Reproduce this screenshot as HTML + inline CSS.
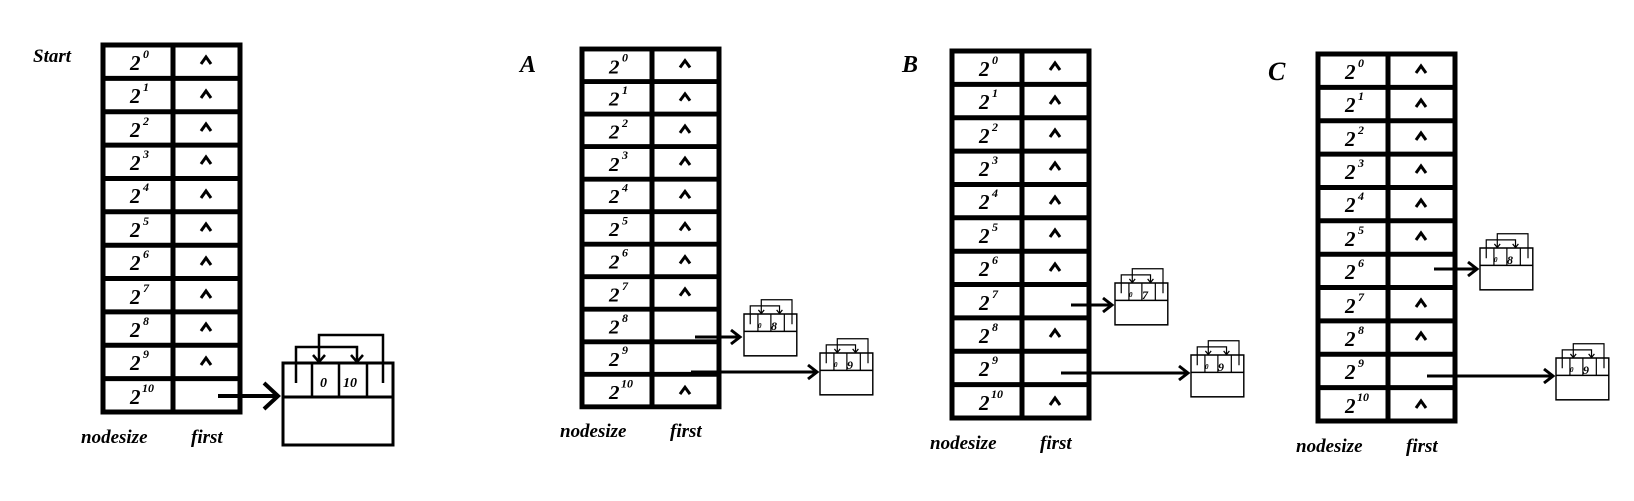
<!DOCTYPE html>
<html><head><meta charset="utf-8"><style>
html,body{margin:0;padding:0;background:#fff;}
svg{display:block;}
text{font-family:"Liberation Serif",serif;font-style:italic;font-weight:bold;fill:#000;}
</style></head><body>
<svg width="1634" height="501" viewBox="0 0 1634 501" xmlns="http://www.w3.org/2000/svg">
<defs>
<g id="tbl">
  <rect x="0" y="0" width="137" height="367" fill="#fff" stroke="#000" stroke-width="5"/>
  <line x1="70" y1="0" x2="70" y2="367" stroke="#000" stroke-width="5"/>
  <g stroke="#000" stroke-width="5">
    <line x1="0" y1="33.4" x2="137" y2="33.4"/><line x1="0" y1="66.7" x2="137" y2="66.7"/>
    <line x1="0" y1="100.1" x2="137" y2="100.1"/><line x1="0" y1="133.5" x2="137" y2="133.5"/>
    <line x1="0" y1="166.8" x2="137" y2="166.8"/><line x1="0" y1="200.2" x2="137" y2="200.2"/>
    <line x1="0" y1="233.5" x2="137" y2="233.5"/><line x1="0" y1="266.9" x2="137" y2="266.9"/>
    <line x1="0" y1="300.3" x2="137" y2="300.3"/><line x1="0" y1="333.6" x2="137" y2="333.6"/>
  </g>
  <g font-size="21">
    <text x="27" y="25">2</text><text x="27" y="58">2</text><text x="27" y="92">2</text>
    <text x="27" y="125">2</text><text x="27" y="158">2</text><text x="27" y="192">2</text>
    <text x="27" y="225">2</text><text x="27" y="259">2</text><text x="27" y="292">2</text>
    <text x="27" y="325">2</text><text x="27" y="359">2</text>
  </g>
  <g font-size="12" font-weight="normal">
    <text x="40" y="13">0</text><text x="40" y="46">1</text><text x="40" y="80">2</text>
    <text x="40" y="113">3</text><text x="40" y="146">4</text><text x="40" y="180">5</text>
    <text x="40" y="213">6</text><text x="40" y="247">7</text><text x="40" y="280">8</text>
    <text x="40" y="313">9</text><text x="39" y="347">10</text>
  </g>
  <text x="-22" y="398" font-size="19">nodesize</text>
  <text x="88" y="398" font-size="19">first</text>
</g>
<polyline id="car" points="-5,4 0,-3 5,4" fill="none" stroke="#000" stroke-width="3"/>
<g id="blk">
  <rect x="0" y="0" width="110" height="82" fill="#fff" stroke="#000" stroke-width="3"/>
  <line x1="0" y1="34" x2="110" y2="34" stroke="#000" stroke-width="3"/>
  <g stroke="#000" stroke-width="2.5" fill="none">
    <line x1="29" y1="0" x2="29" y2="34"/><line x1="56" y1="0" x2="56" y2="34"/><line x1="84" y1="0" x2="84" y2="34"/>
    <polyline points="13,20 13,-16 74,-16 74,-1"/>
    <polyline points="100,20 100,-28 36,-28 36,-1"/>
    <polyline points="30,-8 36,-1 42,-8"/>
    <polyline points="68,-8 74,-1 80,-8"/>
  </g>
</g>
</defs>

<!-- Start -->
<text x="33" y="62" font-size="19">Start</text>
<use href="#tbl" x="103" y="45"/>
<g transform="translate(103,45)">
  <use href="#car" x="103" y="15"/><use href="#car" x="103" y="49"/><use href="#car" x="103" y="82"/>
  <use href="#car" x="103" y="115"/><use href="#car" x="103" y="149"/><use href="#car" x="103" y="182"/>
  <use href="#car" x="103" y="216"/><use href="#car" x="103" y="249"/><use href="#car" x="103" y="282"/>
  <use href="#car" x="103" y="316"/>
</g>
<g transform="translate(283,363)">
  <use href="#blk"/>
  <text x="37" y="24" font-size="14" font-weight="normal">0</text>
  <text x="60" y="24" font-size="14" font-weight="normal">10</text>
</g>
<line x1="218" y1="396" x2="276" y2="396" stroke="#000" stroke-width="4"/>
<polyline points="264,383 278,396 264,409" fill="none" stroke="#000" stroke-width="4"/>

<!-- A -->
<text x="520" y="72" font-size="24">A</text>
<g transform="translate(582,49) scale(1,0.975)">
  <use href="#tbl"/>
  <use href="#car" x="103" y="15"/><use href="#car" x="103" y="49"/><use href="#car" x="103" y="82"/>
  <use href="#car" x="103" y="115"/><use href="#car" x="103" y="149"/><use href="#car" x="103" y="182"/>
  <use href="#car" x="103" y="216"/><use href="#car" x="103" y="249"/><use href="#car" x="103" y="350"/>
</g>
<g transform="translate(744,314) scale(0.48,0.51)"><use href="#blk"/></g>
<text x="758" y="328" font-size="7" font-weight="normal">0</text><text x="771" y="330" font-size="12" font-style="normal">8</text>
<line x1="695" y1="337" x2="738" y2="337" stroke="#000" stroke-width="3"/>
<polyline points="731,330 740,337 731,344" fill="none" stroke="#000" stroke-width="3"/>
<g transform="translate(820,353) scale(0.48,0.51)"><use href="#blk"/></g>
<text x="834" y="367" font-size="7" font-weight="normal">0</text><text x="847" y="369" font-size="12">9</text>
<line x1="691" y1="372" x2="815" y2="372" stroke="#000" stroke-width="3"/>
<polyline points="808,365 817,372 808,379" fill="none" stroke="#000" stroke-width="3"/>

<!-- B -->
<text x="902" y="72" font-size="24">B</text>
<g transform="translate(952,51)">
  <use href="#tbl"/>
  <use href="#car" x="103" y="15"/><use href="#car" x="103" y="49"/><use href="#car" x="103" y="82"/>
  <use href="#car" x="103" y="115"/><use href="#car" x="103" y="149"/><use href="#car" x="103" y="182"/>
  <use href="#car" x="103" y="216"/><use href="#car" x="103" y="282"/><use href="#car" x="103" y="350"/>
</g>
<g transform="translate(1115,283) scale(0.48,0.51)"><use href="#blk"/></g>
<text x="1129" y="297" font-size="7" font-weight="normal">0</text><text x="1142" y="299" font-size="12">7</text>
<line x1="1071" y1="305" x2="1110" y2="305" stroke="#000" stroke-width="3"/>
<polyline points="1103,298 1112,305 1103,312" fill="none" stroke="#000" stroke-width="3"/>
<g transform="translate(1191,355) scale(0.48,0.51)"><use href="#blk"/></g>
<text x="1205" y="369" font-size="7" font-weight="normal">0</text><text x="1218" y="371" font-size="12">9</text>
<line x1="1061" y1="373" x2="1186" y2="373" stroke="#000" stroke-width="3"/>
<polyline points="1179,366 1188,373 1179,380" fill="none" stroke="#000" stroke-width="3"/>

<!-- C -->
<text x="1268" y="80" font-size="26">C</text>
<g transform="translate(1318,54)">
  <use href="#tbl"/>
  <use href="#car" x="103" y="15"/><use href="#car" x="103" y="49"/><use href="#car" x="103" y="82"/>
  <use href="#car" x="103" y="115"/><use href="#car" x="103" y="149"/><use href="#car" x="103" y="182"/>
  <use href="#car" x="103" y="249"/><use href="#car" x="103" y="282"/><use href="#car" x="103" y="350"/>
</g>
<g transform="translate(1480,248) scale(0.48,0.51)"><use href="#blk"/></g>
<text x="1494" y="262" font-size="7" font-weight="normal">0</text><text x="1507" y="264" font-size="12">8</text>
<line x1="1434" y1="269" x2="1475" y2="269" stroke="#000" stroke-width="3"/>
<polyline points="1468,262 1477,269 1468,276" fill="none" stroke="#000" stroke-width="3"/>
<g transform="translate(1556,358) scale(0.48,0.51)"><use href="#blk"/></g>
<text x="1570" y="372" font-size="7" font-weight="normal">0</text><text x="1583" y="374" font-size="12">9</text>
<line x1="1427" y1="376" x2="1551" y2="376" stroke="#000" stroke-width="3"/>
<polyline points="1544,369 1553,376 1544,383" fill="none" stroke="#000" stroke-width="3"/>
</svg>
</body></html>
